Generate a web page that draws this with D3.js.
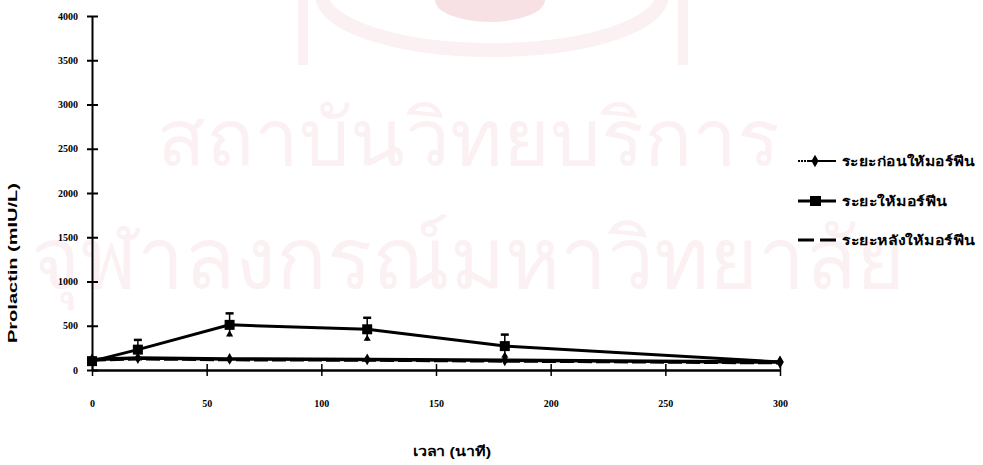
<!DOCTYPE html>
<html>
<head>
<meta charset="utf-8">
<script src="https://cdn.jsdelivr.net/npm/d3@7"></script>
<style>
  html, body { margin: 0; padding: 0; background: #fff; }
  svg { display: block; }
  text { font-family: "Liberation Sans Narrow", "Liberation Sans", "Noto Sans", "DejaVu Sans", sans-serif; font-weight: bold; fill: #000; }
</style>
</head>
<body>
<svg id="chart" width="983" height="465"></svg>
<script>
// ---- data ----
const times = [0, 20, 60, 120, 180, 300];
const seriesNames = ["ระยะก่อนให้มอร์ฟีน", "ระยะให้มอร์ฟีน", "ระยะหลังให้มอร์ฟีน"];
const beforeValues = [120, 135, 125, 120, 110, 90];
const duringValues = [100, 230, 510, 460, 270, 90];
const duringErrors = [0, 110, 130, 130, 130, 0];
const afterValues = [110, 125, 115, 110, 100, 80];
const yTicks = [0, 500, 1000, 1500, 2000, 2500, 3000, 3500, 4000];
const xTicks = [0, 50, 100, 150, 200, 250, 300];
const yLabel = "Prolactin (mIU/L)";
const xLabel = "เวลา (นาที)";
const watermark1 = "สถาบันวิทยบริการ";
const watermark2 = "จุฬาลงกรณ์มหาวิทยาลัย";

const svg = d3.select("#chart");
const x = d3.scaleLinear().domain([0, 300]).range([92, 780]);
const y = d3.scaleLinear().domain([0, 4000]).range([370, 16]);

// ---- watermark ----
const wm = svg.append("g");
wm.append("ellipse").attr("cx", 492).attr("cy", -5).attr("rx", 170).attr("ry", 55)
  .attr("fill", "none").attr("stroke", "#fbf0f2").attr("stroke-width", 14);
wm.append("rect").attr("x", 298).attr("y", 0).attr("width", 10).attr("height", 65).attr("fill", "#fbf0f2");
wm.append("rect").attr("x", 678).attr("y", 0).attr("width", 10).attr("height", 65).attr("fill", "#fbf0f2");
wm.append("ellipse").attr("cx", 490).attr("cy", 0).attr("rx", 55).attr("ry", 22)
  .attr("fill", "#f8e1e5");
wm.append("text").text(watermark1).attr("x", 468).attr("y", 166)
  .attr("text-anchor", "middle").style("font-size", "80px").style("font-weight", "normal")
  .style("font-family", "'Noto Sans', 'DejaVu Sans', sans-serif")
  .style("fill", "#fbf1f3");
wm.append("text").text(watermark2).attr("x", 468).attr("y", 288)
  .attr("text-anchor", "middle").style("font-size", "84px").style("font-weight", "normal")
  .style("font-family", "'Noto Sans', 'DejaVu Sans', sans-serif")
  .style("fill", "#fbf1f3");

// ---- axes ----
const yAxis = d3.axisLeft(y).tickValues(yTicks).tickSize(0).tickPadding(14).tickFormat(d3.format("d"));
const gy = svg.append("g").attr("transform", "translate(92,0)").call(yAxis);
gy.select(".domain").attr("stroke", "#000").attr("stroke-width", 2);
gy.selectAll(".tick line").remove();
gy.selectAll(".tick").append("line").attr("x1", -5).attr("x2", 6).attr("stroke", "#000").attr("stroke-width", 2);
gy.selectAll(".tick text").style("font-size", "10px").style("font-family", "'Liberation Serif', serif").style("font-weight", "bold");

const xAxis = d3.axisBottom(x).tickValues(xTicks).tickSize(0).tickPadding(30).tickFormat(d3.format("d"));
const gx = svg.append("g").attr("transform", "translate(0,370)").call(xAxis);
gx.select(".domain").attr("stroke", "#000").attr("stroke-width", 2.5);
gx.selectAll(".tick line").remove();
gx.selectAll(".tick").append("line").attr("y1", -6).attr("y2", 6).attr("stroke", "#000").attr("stroke-width", 1.5);
gx.selectAll(".tick text").style("font-size", "10px").style("font-family", "'Liberation Serif', serif").style("font-weight", "bold");

// axis labels
svg.append("text").text(yLabel)
  .attr("transform", "translate(17,263) rotate(-90)")
  .attr("text-anchor", "middle").style("font-size", "13px")
  .attr("textLength", 160).attr("lengthAdjust", "spacingAndGlyphs");
svg.append("text").text(xLabel)
  .attr("x", 452).attr("y", 456).attr("text-anchor", "middle").style("font-size", "13px")
  .attr("textLength", 78).attr("lengthAdjust", "spacingAndGlyphs");

// ---- series ----
const line = d3.line().x((d, i) => x(times[i])).y(d => y(d));

// after (dashed)
svg.append("path").datum(afterValues).attr("d", line)
  .attr("fill", "none").attr("stroke", "#000").attr("stroke-width", 3).attr("stroke-dasharray", "14,4");

// before
svg.append("path").datum(beforeValues).attr("d", line)
  .attr("fill", "none").attr("stroke", "#000").attr("stroke-width", 3.5);
svg.selectAll(".dia").data(beforeValues).enter().append("path")
  .attr("d", d3.symbol().type(d3.symbolDiamond).size(40))
  .attr("transform", (d, i) => `translate(${x(times[i])},${y(d)})`).attr("fill", "#000");

// during error bars
const ebData = duringValues.map((v, i) => ({ t: times[i], v: v, e: duringErrors[i] })).filter(d => d.e > 0);
const eb = svg.selectAll(".eb").data(ebData).enter().append("g");
eb.append("line")
  .attr("x1", d => x(d.t)).attr("x2", d => x(d.t))
  .attr("y1", d => y(d.v + d.e)).attr("y2", d => y(d.v - d.e))
  .attr("stroke", "#000").attr("stroke-width", 1.5);
eb.append("line")
  .attr("x1", d => x(d.t) - 4).attr("x2", d => x(d.t) + 4)
  .attr("y1", d => y(d.v + d.e)).attr("y2", d => y(d.v + d.e))
  .attr("stroke", "#000").attr("stroke-width", 2.5);
eb.append("path")
  .attr("d", d3.symbol().type(d3.symbolTriangle).size(22))
  .attr("transform", d => `translate(${x(d.t)},${y(d.v - d.e) - 2})`)
  .attr("fill", "#000");

// during
svg.append("path").datum(duringValues).attr("d", line)
  .attr("fill", "none").attr("stroke", "#000").attr("stroke-width", 3);
svg.selectAll(".sq").data(duringValues.slice(0, 5)).enter().append("rect")
  .attr("x", (d, i) => x(times[i]) - 5).attr("y", d => y(d) - 5)
  .attr("width", 10).attr("height", 10).attr("fill", "#000");
svg.append("path")
  .attr("d", d3.symbol().type(d3.symbolDiamond).size(50))
  .attr("transform", `translate(${x(times[5])},${y(duringValues[5])})`).attr("fill", "#000");

// ---- legend ----
const legY = [161, 201, 240];
const legLen = [133, 105, 133];
const lg = svg.append("g");
seriesNames.forEach((name, i) => {
  const g = lg.append("g").attr("transform", `translate(798,${legY[i]})`);
  if (i === 0) {
    g.append("line").attr("x1", 0).attr("x2", 10).attr("stroke", "#000").attr("stroke-width", 2).attr("stroke-dasharray", "2,1");
    g.append("line").attr("x1", 10).attr("x2", 38).attr("stroke", "#000").attr("stroke-width", 2);
    g.append("path").attr("d", d3.symbol().type(d3.symbolDiamond).size(45)).attr("transform", "translate(17,0)");
  } else if (i === 1) {
    g.append("line").attr("x1", 0).attr("x2", 38).attr("stroke", "#000").attr("stroke-width", 3);
    g.append("rect").attr("x", 12).attr("y", -5).attr("width", 11).attr("height", 10);
  } else {
    g.append("line").attr("x1", 0).attr("x2", 38).attr("stroke", "#000").attr("stroke-width", 3).attr("stroke-dasharray", "16,6");
  }
  g.append("text").text(name).attr("x", 44).attr("y", 5).style("font-size", "13px")
    .attr("textLength", legLen[i]).attr("lengthAdjust", "spacingAndGlyphs");
});
</script>
</body>
</html>
